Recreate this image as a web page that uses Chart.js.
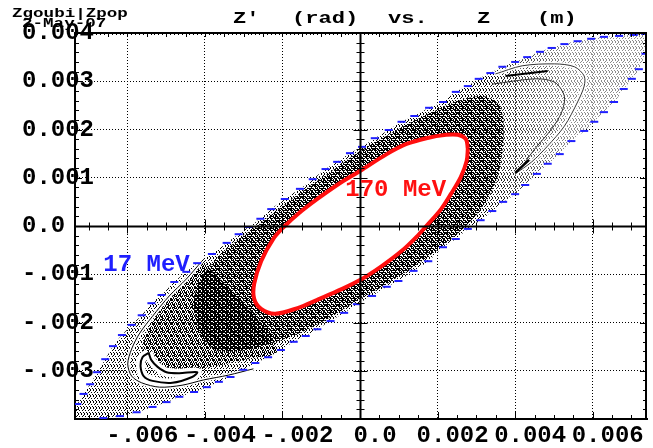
<!DOCTYPE html>
<html>
<head>
<meta charset="utf-8">
<script src="https://cdn.jsdelivr.net/npm/chart.js@4.4.1/dist/chart.umd.min.js"></script>
<style>
  html, body { margin: 0; padding: 0; background: #fff; }
  #grafico { display: block; }
</style>
</head>
<body>
<canvas id="grafico" width="653" height="448"></canvas>
<script>
// Z' (rad) vs Z (m)

// contorno externo do feixe de 17 MeV (tracos azuis)
const edge17 = [
  [-0.00729,-0.00369],[-0.00713,-0.00348],[-0.00696,-0.00328],[-0.00678,-0.00303],[-0.00657,-0.00276],
  [-0.00637,-0.00249],[-0.00614,-0.00226],[-0.00589,-0.00205],[-0.00563,-0.00185],[-0.00538,-0.00160],
  [-0.00512,-0.00143],[-0.00479,-0.00116],[-0.00448,-0.00095],[-0.00420,-0.00077],[-0.00382,-0.00058],
  [-0.00344,-0.00035],[-0.00313,-0.00017],[-0.00288,-0.00002],[-0.00257,0.00015],[-0.00229,0.00035],
  [-0.00194,0.00056],[-0.00155,0.00077],[-0.00122,0.00097],[-0.00089,0.00118],[-0.00059,0.00133],
  [-0.00026,0.00151],[0.00005,0.00164],[0.00038,0.00182],[0.00074,0.00199],[0.00107,0.00216],
  [0.00140,0.00228],[0.00178,0.00245],[0.00214,0.00257],[0.00247,0.00278],[0.00278,0.00290],
  [0.00306,0.00305],[0.00336,0.00317],[0.00367,0.00330],[0.00400,0.00340],[0.00431,0.00350],
  [0.00464,0.00361],[0.00494,0.00369],[0.00527,0.00377],[0.00561,0.00383],[0.00596,0.00388],
  [0.00629,0.00392],[0.00668,0.00394],[0.00706,0.00396],[0.00736,0.00398],[0.00760,0.00380],
  [0.00736,0.00357],[0.00719,0.00325],[0.00701,0.00305],[0.00680,0.00284],[0.00655,0.00257],
  [0.00629,0.00236],[0.00604,0.00216],[0.00578,0.00197],[0.00545,0.00176],[0.00515,0.00149],
  [0.00484,0.00129],[0.00456,0.00108],[0.00426,0.00085],[0.00400,0.00066],[0.00369,0.00050],
  [0.00341,0.00031],[0.00311,0.00012],[0.00278,-0.00006],[0.00247,-0.00027],[0.00214,-0.00044],
  [0.00176,-0.00073],[0.00138,-0.00093],[0.00099,-0.00114],[0.00069,-0.00126],[0.00031,-0.00145],
  [-0.00008,-0.00162],[-0.00041,-0.00180],[-0.00076,-0.00197],[-0.00110,-0.00214],[-0.00140,-0.00228],
  [-0.00171,-0.00240],[-0.00204,-0.00257],[-0.00237,-0.00272],[-0.00270,-0.00284],[-0.00301,-0.00298],
  [-0.00334,-0.00313],[-0.00364,-0.00323],[-0.00395,-0.00334],[-0.00428,-0.00344],[-0.00466,-0.00354],
  [-0.00499,-0.00365],[-0.00535,-0.00375],[-0.00576,-0.00386],[-0.00619,-0.00394],[-0.00662,-0.00398],
  [-0.00750,-0.00410]
];

// faixa densa de particulas em volta da elipse de 170 MeV
const core17 = [
  [-0.00359,-0.00058],[-0.00313,-0.00027],[-0.00250,0.00010],[-0.00186,0.00050],[-0.00122,0.00087],
  [-0.00059,0.00122],[0.00005,0.00158],[0.00069,0.00187],[0.00133,0.00216],[0.00196,0.00240],
  [0.00260,0.00261],[0.00319,0.00269],[0.00357,0.00253],[0.00369,0.00222],[0.00369,0.00170],
  [0.00357,0.00108],[0.00329,0.00056],[0.00285,0.00010],[0.00222,-0.00035],[0.00145,-0.00081],
  [0.00069,-0.00120],[-0.00008,-0.00155],[-0.00084,-0.00193],[-0.00161,-0.00224],[-0.00237,-0.00245],
  [-0.00313,-0.00259],[-0.00377,-0.00255],[-0.00415,-0.00214],[-0.00428,-0.00151],[-0.00403,-0.00100]
];

// aneis internos da ponta inferior esquerda (densidade media)
const mid17 = [
  [-0.00403,-0.00073],[-0.00454,-0.00116],[-0.00505,-0.00162],[-0.00543,-0.00209],[-0.00561,-0.00251],
  [-0.00555,-0.00286],[-0.00505,-0.00301],[-0.00415,-0.00296],[-0.00313,-0.00280],[-0.00212,-0.00255]
];

// elipse de 170 MeV (vermelha)
const ring170 = [
  [0.00278,0.00160],[0.00273,0.00180],[0.00252,0.00189],[0.00222,0.00189],[0.00171,0.00182],
  [0.00120,0.00170],[0.00069,0.00149],[0.00000,0.00114],[-0.00059,0.00085],[-0.00110,0.00056],
  [-0.00160,0.00025],[-0.00194,0.00000],[-0.00224,-0.00027],[-0.00255,-0.00073],[-0.00273,-0.00120],
  [-0.00273,-0.00151],[-0.00255,-0.00172],[-0.00219,-0.00182],[-0.00161,-0.00170],[-0.00110,-0.00153],
  [-0.00059,-0.00135],[0.00000,-0.00112],[0.00056,-0.00083],[0.00107,-0.00052],[0.00145,-0.00023],
  [0.00171,0.00000],[0.00209,0.00035],[0.00234,0.00066],[0.00260,0.00102],[0.00275,0.00135]
];

// curvas pretas (ganchos) nas pontas
const hookLL = [
  [-0.00545,-0.00263],[-0.00561,-0.00272],[-0.00566,-0.00290],[-0.00558,-0.00311],[-0.00535,-0.00321],
  [-0.00484,-0.00325],[-0.00433,-0.00313],[-0.00420,-0.00303],[-0.00466,-0.00305],[-0.00499,-0.00303],
  [-0.00522,-0.00292],[-0.00538,-0.00278],[-0.00545,-0.00263]
];
const curveLL = [
  [-0.00408,-0.00073],[-0.00448,-0.00110],[-0.00492,-0.00145],[-0.00535,-0.00187],[-0.00568,-0.00222],
  [-0.00589,-0.00255],[-0.00599,-0.00286],[-0.00589,-0.00311],[-0.00563,-0.00325],[-0.00517,-0.00334],
  [-0.00459,-0.00330],[-0.00403,-0.00319],[-0.00339,-0.00309],[-0.00275,-0.00296]
];
const curveUROut = [
  [0.00400,0.00108],[0.00443,0.00133],[0.00484,0.00166],[0.00527,0.00207],[0.00561,0.00257],
  [0.00578,0.00290],[0.00578,0.00311],[0.00553,0.00330],[0.00502,0.00336],[0.00418,0.00332],[0.00349,0.00315]
];
const curveURIn = [
  [0.00418,0.00124],[0.00451,0.00160],[0.00494,0.00201],[0.00520,0.00236],[0.00527,0.00269],
  [0.00502,0.00298],[0.00451,0.00305],[0.00341,0.00294]
];
const streakUR = [[0.00400,0.00110],[0.00436,0.00137]];
const arrowUR = [[0.00375,0.00311],[0.00484,0.00321]];

// eixos
const xTicks = [-0.006, -0.004, -0.002, 0, 0.002, 0.004, 0.006];
const xTickLabels = ['-.006', '-.004', '-.002', '0.0', '0.002', '0.004', '0.006'];
const yTicks = [-0.004, -0.003, -0.002, -0.001, 0, 0.001, 0.002, 0.003, 0.004];
const yTickLabels = ['', '-.003', '-.002', '-.001', '0.0', '0.001', '0.002', '0.003', '0.004'];

const beamLabels = ['17 MeV', '170 MeV'];
const titleParts = ['Z\u2032', '(rad)', 'vs.', 'Z', '(m)'];

const canvas = document.getElementById('grafico');
const ctx = canvas.getContext('2d');

function padraoPontos(tam, pts, cor) {
  const t = document.createElement('canvas');
  t.width = tam; t.height = tam;
  const g = t.getContext('2d');
  g.fillStyle = cor;
  pts.forEach(p => g.fillRect(p[0], p[1], 1, 1));
  return ctx.createPattern(t, 'repeat');
}
const esparso = padraoPontos(6, [[0, 0], [3, 0], [5, 1], [1, 2], [4, 2], [2, 4], [5, 4], [0, 5], [3, 5]], '#000');
const medio = padraoPontos(4, [[0, 0], [2, 0], [1, 1], [3, 2], [0, 3], [2, 3]], '#000');
const denso = padraoPontos(4, [[0, 0], [1, 0], [3, 0], [1, 1], [2, 1], [0, 2], [2, 2], [3, 2], [3, 3]], '#000');

// clareia a ponta superior direita (pontos mais finos no original)
const clareia = ctx.createLinearGradient(480, 0, 570, 0);
clareia.addColorStop(0, 'rgba(255,255,255,0)');
clareia.addColorStop(1, 'rgba(255,255,255,0.55)');

const toXY = a => a.map(p => ({ x: p[0], y: p[1] }));
const fechado = a => toXY(a.concat([a[0]]));

const MONO = '"Liberation Mono", "DejaVu Sans Mono", monospace';

function textoLargo(c, t, x, y, tam, cor, estica) {
  c.save();
  c.translate(x, y);
  c.scale(estica, 1);
  c.font = `bold ${tam}px ${MONO}`;
  c.fillStyle = cor;
  c.textAlign = 'left';
  c.textBaseline = 'alphabetic';
  c.fillText(t, 0, 0);
  c.restore();
}

const moldura = {
  id: 'moldura',
  afterDraw(chart) {
    const { ctx: c, chartArea: a } = chart;
    const sx = chart.scales.x, sy = chart.scales.y;
    const px = v => sx.getPixelForValue(v);
    const py = v => sy.getPixelForValue(v);
    const x0 = Math.round(px(0)) + 0.5, y0 = Math.round(py(0)) + 0.5;
    c.save();
    c.strokeStyle = '#000';
    c.lineWidth = 2;
    c.beginPath();
    c.moveTo(a.left, a.top); c.lineTo(a.right, a.top);
    c.moveTo(a.right - 1, a.top); c.lineTo(a.right - 1, a.bottom);
    c.moveTo(x0, a.top); c.lineTo(x0, a.bottom);
    c.moveTo(a.left, y0); c.lineTo(a.right, y0);
    c.stroke();

    c.lineWidth = 1;
    c.beginPath();
    for (let i = -15; i <= 15; i++) {
      const X = Math.round(px(i * 0.0005)) + 0.5;
      if (X < a.left || X > a.right) continue;
      const L = i % 4 === 0 ? 7 : 4;
      c.moveTo(X, a.bottom); c.lineTo(X, a.bottom - L);
      c.moveTo(X, y0 - L); c.lineTo(X, y0 + L);
    }
    for (let i = -75; i <= 75; i++) {
      const X = Math.round(px(i * 0.0001)) + 0.5;
      if (X < a.left || X > a.right) continue;
      const L = i % 5 === 0 ? 4 : 2;
      c.moveTo(X, a.top); c.lineTo(X, a.top + L);
    }
    for (let j = -20; j <= 20; j++) {
      const Y = Math.round(py(j * 0.0002)) + 0.5;
      const L = j % 5 === 0 ? 7 : 4;
      c.moveTo(a.left, Y); c.lineTo(a.left + L, Y);
      c.moveTo(a.right, Y); c.lineTo(a.right - L, Y);
      c.moveTo(x0 - L, Y); c.lineTo(x0 + L, Y);
    }
    c.stroke();

    // rotulos das energias
    c.font = `bold 24px ${MONO}`;
    c.textAlign = 'left';
    c.textBaseline = 'middle';
    c.fillStyle = '#1f1fff';
    c.fillText(beamLabels[0], px(-0.00662), py(-0.00081));
    c.fillStyle = '#ff1010';
    c.fillText(beamLabels[1], px(-0.00038), py(0.00075));

    // titulo e cabecalho
    const posTitulo = [233, 292, 388, 477, 537];
    titleParts.forEach((t, k) => textoLargo(c, t, posTitulo[k], 23, 17, '#000', 1.3));
    textoLargo(c, 'Zgoubi|Zpop', 12, 17, 13.5, '#000', 1.3);
    textoLargo(c, '2-May-07', 22, 27, 13.5, '#000', 1.3);
    c.restore();
  }
};

const linha = (dados, cor, larg, ordem) => ({
  data: toXY(dados), showLine: true, fill: false, borderColor: cor, borderWidth: larg,
  pointRadius: 0, tension: 0.3, order: ordem
});
const area = (dados, fundo, ordem) => ({
  data: fechado(dados), showLine: true, fill: 'shape', backgroundColor: fundo,
  borderWidth: 0, pointRadius: 0, tension: 0.3, order: ordem
});

new Chart(canvas, {
  type: 'scatter',
  data: {
    datasets: [
      area(edge17, esparso, 12),
      area(edge17, clareia, 11),
      area(mid17, medio, 10),
      area(core17, denso, 9),
      linha(curveLL, '#fff', 4, 7),
      linha(hookLL, '#fff', 9, 7),
      linha(curveUROut, '#fff', 4, 7),
      linha(curveLL, '#000', 1, 6),
      linha(curveUROut, '#333', 1, 6),
      linha(curveURIn, '#333', 1, 6),
      linha(hookLL, '#000', 2, 5),
      linha(streakUR, '#000', 2.5, 5),
      linha(arrowUR, '#000', 2, 5),
      { data: fechado(ring170), showLine: true, fill: 'shape', backgroundColor: '#fff',
        borderColor: '#ff1010', borderWidth: 4, pointRadius: 0, tension: 0.35, order: 2 },
      { data: toXY(edge17), showLine: false, pointStyle: 'line', pointRadius: 4,
        pointBorderWidth: 2, pointBorderColor: '#1f1fff', pointBackgroundColor: '#1f1fff', order: 1 }
    ]
  },
  options: {
    responsive: false,
    devicePixelRatio: 1,
    animation: false,
    events: [],
    layout: { padding: { top: 33, left: 22, right: 0, bottom: 0 } },
    plugins: { legend: { display: false }, tooltip: { enabled: false }, title: { display: false } },
    scales: {
      x: {
        type: 'linear', min: -0.00735, max: 0.0074, z: 1,
        afterBuildTicks: s => { s.ticks = xTicks.map(v => ({ value: v })); },
        afterFit: s => { s.height = 29; },
        ticks: {
          color: '#000', padding: 3, labelOffset: 15, maxRotation: 0, autoSkip: false,
          font: { family: MONO, size: 24, weight: 'bold' },
          callback: (v, i) => xTickLabels[i]
        },
        grid: { color: '#000', lineWidth: 1, drawTicks: false },
        border: { display: true, color: '#000', width: 2, dash: [1, 2] }
      },
      y: {
        type: 'linear', min: -0.004, max: 0.004, z: 1,
        afterBuildTicks: s => { s.ticks = yTicks.map(v => ({ value: v })); },
        afterFit: s => { s.width = 53; },
        ticks: {
          color: '#000', mirror: true, padding: -53, autoSkip: false,
          font: { family: MONO, size: 24, weight: 'bold' },
          callback: (v, i) => yTickLabels[i]
        },
        grid: { color: '#000', lineWidth: 1, drawTicks: false },
        border: { display: true, color: '#000', width: 2, dash: [1, 2] }
      }
    }
  },
  plugins: [moldura]
});
</script>
</body>
</html>
